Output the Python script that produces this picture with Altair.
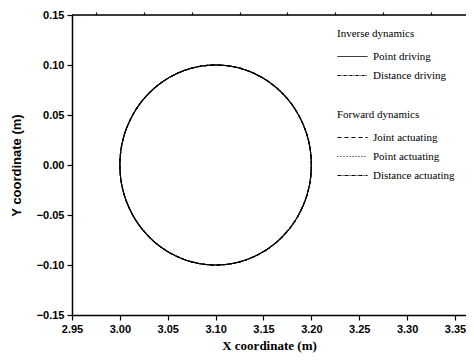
import altair as alt
import pandas as pd

# Circle traced by the end point, start at the right-most point
x_vals = [3.2000, 3.1996, 3.1985, 3.1966, 3.1940, 3.1906, 3.1866, 3.1819, 3.1766, 3.1707,
          3.1643, 3.1574, 3.1500, 3.1423, 3.1342, 3.1259, 3.1174, 3.1087, 3.1000,
          3.0913, 3.0826, 3.0741, 3.0658, 3.0577, 3.0500, 3.0426, 3.0357, 3.0293,
          3.0234, 3.0181, 3.0134, 3.0094, 3.0060, 3.0034, 3.0015, 3.0004, 3.0000,
          3.0004, 3.0015, 3.0034, 3.0060, 3.0094, 3.0134, 3.0181, 3.0234, 3.0293,
          3.0357, 3.0426, 3.0500, 3.0577, 3.0658, 3.0741, 3.0826, 3.0913, 3.1000,
          3.1087, 3.1174, 3.1259, 3.1342, 3.1423, 3.1500, 3.1574, 3.1643, 3.1707,
          3.1766, 3.1819, 3.1866, 3.1906, 3.1940, 3.1966, 3.1985, 3.1996, 3.2000]
y_vals = [0.0000, 0.0087, 0.0174, 0.0259, 0.0342, 0.0423, 0.0500, 0.0574, 0.0643, 0.0707,
          0.0766, 0.0819, 0.0866, 0.0906, 0.0940, 0.0966, 0.0985, 0.0996, 0.1000,
          0.0996, 0.0985, 0.0966, 0.0940, 0.0906, 0.0866, 0.0819, 0.0766, 0.0707,
          0.0643, 0.0574, 0.0500, 0.0423, 0.0342, 0.0259, 0.0174, 0.0087, 0.0000,
          -0.0087, -0.0174, -0.0259, -0.0342, -0.0423, -0.0500, -0.0574, -0.0643, -0.0707,
          -0.0766, -0.0819, -0.0866, -0.0906, -0.0940, -0.0966, -0.0985, -0.0996, -0.1000,
          -0.0996, -0.0985, -0.0966, -0.0940, -0.0906, -0.0866, -0.0819, -0.0766, -0.0707,
          -0.0643, -0.0574, -0.0500, -0.0423, -0.0342, -0.0259, -0.0174, -0.0087, 0.0000]

inverse_series = ["Point driving", "Distance driving"]
inverse_dash = [[1, 0], [3, 1, 1, 1]]
forward_series = ["Joint actuating", "Point actuating", "Distance actuating"]
forward_dash = [[4, 3], [1, 2], [4, 1, 1, 1]]

x_major = [2.95, 3.00, 3.05, 3.10, 3.15, 3.20, 3.25, 3.30, 3.35]
x_minor = [2.975, 3.025, 3.075, 3.125, 3.175, 3.225, 3.275, 3.325]
y_major = [-0.15, -0.10, -0.05, 0.00, 0.05, 0.10, 0.15]
y_minor = [-0.125, -0.075, -0.025, 0.025, 0.075, 0.125]


def make_df(series_list):
    rows = []
    for s in series_list:
        for i, (xv, yv) in enumerate(zip(x_vals, y_vals)):
            rows.append({"x": xv, "y": yv, "order": i, "series": s})
    return pd.DataFrame(rows)


inv_df = make_df(inverse_series)
fwd_df = make_df(forward_series)

W, H = 394, 300
xs = alt.Scale(domain=[2.95, 3.3615], nice=False, zero=False)
ys = alt.Scale(domain=[-0.15, 0.15], nice=False, zero=False)

common_axis = dict(domainColor="black", domainWidth=1.5, tickColor="black",
                   tickWidth=1.2, grid=False, labelFlush=False, labelOverlap=False)

x_major_axis = alt.Axis(values=x_major, format=".2f", tickSize=5,
                        labelFont="Liberation Sans", labelFontWeight="bold",
                        labelFontSize=11, labelColor="black", labelPadding=3,
                        title="X coordinate (m)", titleFont="Liberation Serif",
                        titleFontWeight="bold", titleFontSize=13, titleColor="black",
                        titlePadding=5, **common_axis)
y_major_axis = alt.Axis(values=y_major, format=".2f", tickSize=5,
                        labelFont="Liberation Sans", labelFontWeight="bold",
                        labelFontSize=11, labelColor="black", labelPadding=3,
                        title="Y coordinate (m)", titleFont="Liberation Sans",
                        titleFontWeight="bold", titleFontSize=13, titleColor="black",
                        titlePadding=13, **common_axis)
x_minor_axis = alt.Axis(values=x_minor, tickSize=3, labels=False, title=None,
                        domain=False, ticks=True, tickColor="black", tickWidth=1.2,
                        grid=False)
y_minor_axis = alt.Axis(values=y_minor, tickSize=3, labels=False, title=None,
                        domain=False, ticks=True, tickColor="black", tickWidth=1.2,
                        grid=False)

legend_common = dict(orient="none", titleFont="Liberation Serif", titleFontSize=11,
                     titleFontWeight="normal", titleColor="black", titlePadding=7,
                     labelFont="Liberation Serif", labelFontSize=11, labelColor="black",
                     symbolType="M-1,0H2", symbolSize=400, symbolStrokeWidth=1,
                     symbolStrokeColor="black", symbolFillColor="transparent",
                     labelOffset=15, rowPadding=3, padding=0)

inv_layer = alt.Chart(inv_df).mark_line(color="black", strokeWidth=1.1,
                                        interpolate="catmull-rom").encode(
    x=alt.X("x:Q", scale=xs, axis=x_major_axis),
    y=alt.Y("y:Q", scale=ys, axis=y_major_axis),
    order="order:Q",
    strokeDash=alt.StrokeDash("series:N",
                              scale=alt.Scale(domain=inverse_series, range=inverse_dash),
                              legend=alt.Legend(title="Inverse dynamics", legendX=265,
                                                legendY=13, **legend_common)),
)

fwd_layer = alt.Chart(fwd_df).mark_line(color="black", strokeWidth=1.1,
                                        interpolate="catmull-rom").encode(
    x=alt.X("x:Q", scale=xs, axis=x_minor_axis),
    y=alt.Y("y:Q", scale=ys, axis=y_minor_axis),
    order="order:Q",
    strokeDash=alt.StrokeDash("series:N",
                              scale=alt.Scale(domain=forward_series, range=forward_dash),
                              legend=alt.Legend(title="Forward dynamics", legendX=265,
                                                legendY=94, **legend_common)),
)

top_line = alt.Chart(pd.DataFrame({"a": [0]})).mark_rule(
    color="black", strokeWidth=1.5).encode(
    x=alt.value(0), x2=alt.value(W), y=alt.value(0))

chart = alt.layer(inv_layer, fwd_layer, top_line).resolve_scale(
    strokeDash="independent").resolve_axis(x="independent", y="independent").properties(
    width=W, height=H,
    autosize=alt.AutoSizeParams(type="none"),
    padding={"left": 64, "top": 7, "right": 0, "bottom": 40},
).configure_view(stroke=None).configure(background="white")

chart.save("out.html", embed_options={"renderer": "svg", "actions": False})
